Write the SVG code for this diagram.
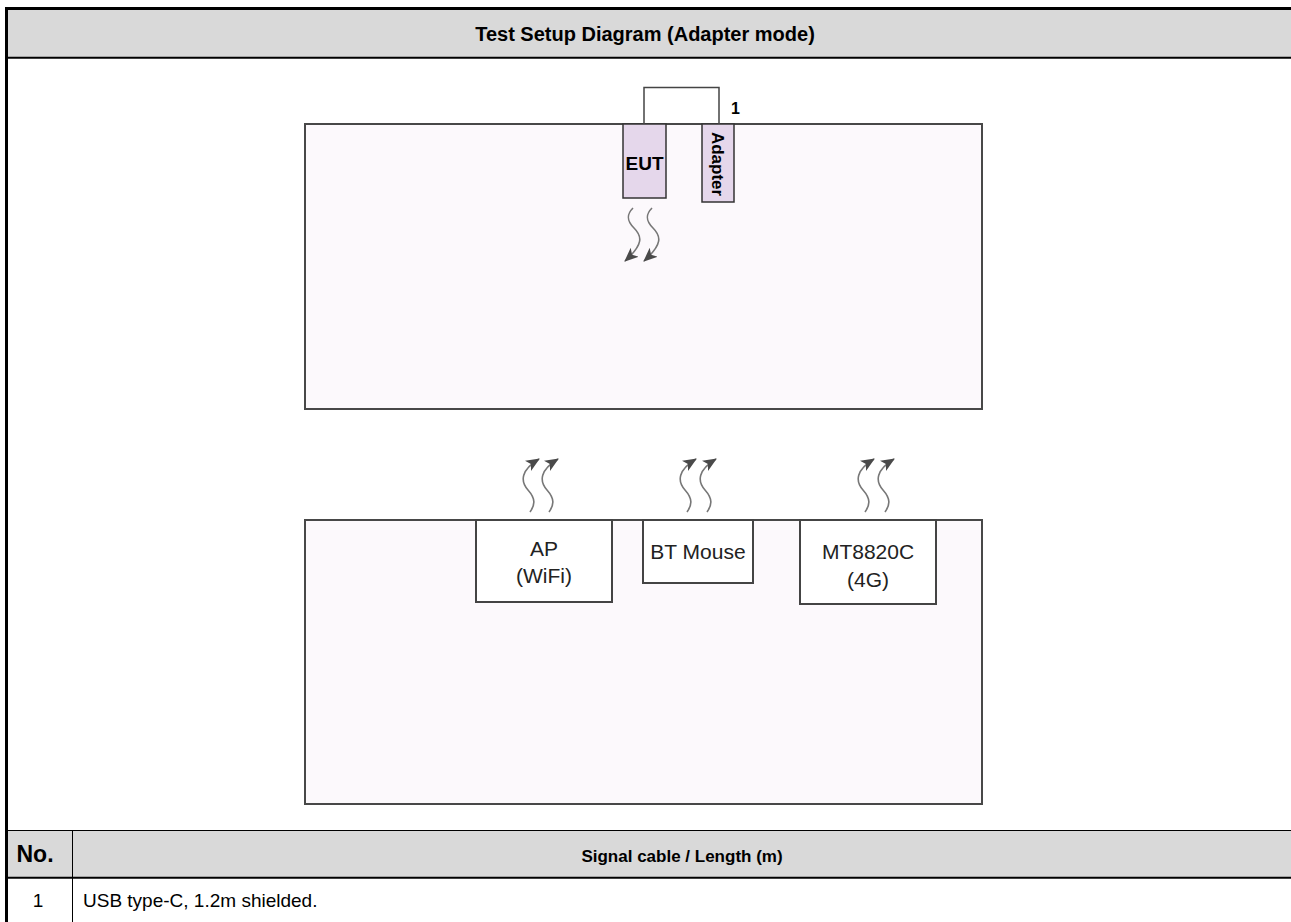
<svg xmlns="http://www.w3.org/2000/svg" width="1291" height="922" viewBox="0 0 1291 922">
  <style>
    .hdr { fill: #d9d9d9; }
    .tline { stroke: #000; fill: none; }
    .bold { font-family: "Liberation Sans", Arial, sans-serif; font-weight: bold; fill: #000; }
    .reg { font-family: "Liberation Sans", Arial, sans-serif; fill: #000; }
    .room { fill: #fcf9fc; stroke: #484848; stroke-width: 2; }
    .unit { fill: #e5d7eb; stroke: #333; stroke-width: 1.5; }
    .dev { fill: #fff; stroke: #444; stroke-width: 2; }
    .devtxt { font-family: "Liberation Sans", Arial, sans-serif; font-size: 21px; fill: #222; text-anchor: middle; }
    .wave { fill: none; stroke: #777; stroke-width: 1.6; marker-end: url(#head); }
    .cable { fill: none; stroke: #444; stroke-width: 1.5; }
  </style>
  <defs>
    <marker id="head" markerUnits="userSpaceOnUse" markerWidth="16" markerHeight="14" refX="13" refY="6" orient="auto">
      <path d="M0,0 L14,6 L0,12 L3.5,6 z" fill="#4a4a4a"/>
    </marker>
    <path id="waveUp" d="M0,0 C5,-7 6,-13 -2,-22 C-10,-31 -9,-42 9,-53"/>
    <path id="waveDown" d="M0,0 C-6,6 -7,12 1,20 C9,28 11,36 -8,53"/>
  </defs>

  <!-- table frame -->
  <g id="table">
    <rect class="hdr" x="8" y="10" width="1283" height="47"/>
    <rect class="hdr" x="8" y="831" width="1283" height="46"/>
    <line class="tline" x1="5" y1="8.5" x2="1291" y2="8.5" stroke-width="3"/>
    <line class="tline" x1="6.5" y1="7" x2="6.5" y2="922" stroke-width="3"/>
    <line class="tline" x1="8" y1="57.8" x2="1291" y2="57.8" stroke-width="2"/>
    <line class="tline" x1="8" y1="830.5" x2="1291" y2="830.5" stroke-width="1"/>
    <line class="tline" x1="8" y1="877.8" x2="1291" y2="877.8" stroke-width="2"/>
    <line class="tline" x1="72.5" y1="830" x2="72.5" y2="922" stroke-width="1"/>
    <text class="bold" x="645" y="41" font-size="20" text-anchor="middle">Test Setup Diagram (Adapter mode)</text>
    <text class="bold" x="35" y="862" font-size="23" text-anchor="middle">No.</text>
    <text class="bold" x="682" y="862" font-size="17" text-anchor="middle">Signal cable / Length (m)</text>
    <text class="reg" x="38" y="907" font-size="19" text-anchor="middle">1</text>
    <text class="reg" x="83" y="907" font-size="19">USB type-C, 1.2m shielded.</text>
  </g>

  <!-- upper table area -->
  <g id="table-top">
    <rect class="room" x="305" y="124" width="677" height="285"/>
  </g>

  <!-- lower table area -->
  <g id="table-bottom">
    <rect class="room" x="305" y="520" width="677" height="284"/>
  </g>

  <g id="eut">
    <rect class="unit" x="623" y="124" width="43" height="74"/>
    <text class="bold" x="644.5" y="170" font-size="19" text-anchor="middle">EUT</text>
  </g>

  <g id="adapter">
    <rect class="unit" x="702" y="124" width="32" height="78"/>
    <text class="bold" transform="translate(712,164) rotate(90)" font-size="17" text-anchor="middle">Adapter</text>
  </g>

  <g id="ap">
    <rect class="dev" x="476" y="520" width="136" height="82"/>
    <text class="devtxt" x="544" y="556">AP</text>
    <text class="devtxt" x="544" y="583">(WiFi)</text>
  </g>

  <g id="bt-mouse">
    <rect class="dev" x="643" y="520" width="110" height="63"/>
    <text class="devtxt" x="698" y="559">BT Mouse</text>
  </g>

  <g id="mt8820c">
    <rect class="dev" x="800" y="520" width="136" height="84"/>
    <text class="devtxt" x="868" y="559">MT8820C</text>
    <text class="devtxt" x="868" y="587">(4G)</text>
  </g>

  <g id="connectors">
    <!-- cable 1: EUT to adapter -->
    <path class="cable" d="M644,124 V87.5 H719 V124"/>
    <text class="bold" x="731" y="114" font-size="16" fill="#222">1</text>
    <!-- radio links -->
    <use href="#waveDown" class="wave" x="633" y="208"/>
    <use href="#waveDown" class="wave" x="652" y="208"/>
    <use href="#waveUp" class="wave" x="530" y="512"/>
    <use href="#waveUp" class="wave" x="549" y="512"/>
    <use href="#waveUp" class="wave" x="687" y="512"/>
    <use href="#waveUp" class="wave" x="707" y="512"/>
    <use href="#waveUp" class="wave" x="865" y="512"/>
    <use href="#waveUp" class="wave" x="885" y="512"/>
  </g>
</svg>
